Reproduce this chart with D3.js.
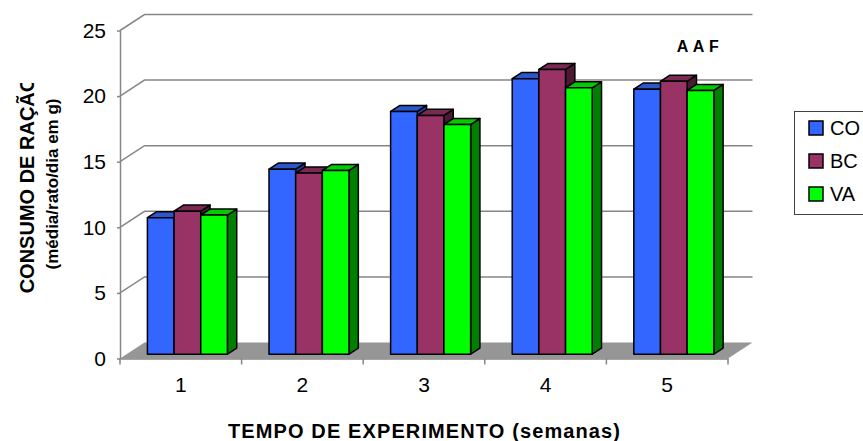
<!DOCTYPE html>
<html><head><meta charset="utf-8">
<script src="https://cdn.jsdelivr.net/npm/d3@7"></script>
<style>
body{margin:0;background:#fff}
svg{display:block;font-family:Arial,"Liberation Sans",sans-serif}
</style>
</head><body>
<svg id="chart" width="863" height="441"></svg>
<script>
// Weekly feed intake (g per rat per day), three groups
const weeks = ["1", "2", "3", "4", "5"];
const seriesNames = ["CO", "BC", "VA"];
const coValues = [10.4, 14.1, 18.5, 21.0, 20.2];
const bcValues = [10.9, 13.8, 18.2, 21.7, 20.8];
const vaValues = [10.6, 14.0, 17.5, 20.3, 20.1];
const yTicks = [0, 5, 10, 15, 20, 25];

const seriesValues = [coValues, bcValues, vaValues];
const palette = [
  {front: "#3366ff", top: "#2c56cc", side: "#1f3f99"},
  {front: "#993366", top: "#7a2952", side: "#4d1a33"},
  {front: "#00ff00", top: "#00cc00", side: "#008000"}
];

const svg = d3.select("#chart");
const fontFamily = "Arial, 'Liberation Sans', sans-serif";

// front plane of the 3-D box
const x = d3.scaleBand().domain(weeks).range([120, 728]).padding(0);
const sub = d3.scaleBand().domain(seriesNames).range([0, x.bandwidth()])
  .paddingInner(0).paddingOuter(0.78);
const y = d3.scaleLinear().domain([0, 25]).range([358.5, 30.5]);

// oblique depth of the box and of the bars
const wallDx = 24.5, wallDy = -16;
const f0 = 0.27, f1 = 0.65;
const bx0 = wallDx * f0, by0 = wallDy * f0;
const bdx = wallDx * (f1 - f0), bdy = wallDy * (f1 - f0);

const gridColor = "#868686";

// floor
svg.append("polygon")
  .attr("points", [
    [x.range()[0], y(0)], [x.range()[1], y(0)],
    [x.range()[1] + wallDx, y(0) + wallDy], [x.range()[0] + wallDx, y(0) + wallDy]
  ].map(p => p.join(",")).join(" "))
  .attr("fill", "#969696");

// gridlines on the side and back walls
svg.append("g").selectAll("polyline")
  .data(yTicks.filter(v => v > 0))
  .join("polyline")
  .attr("points", v => [
    [x.range()[0], y(v)],
    [x.range()[0] + wallDx, y(v) + wallDy],
    [x.range()[1] + wallDx, y(v) + wallDy]
  ].map(p => p.join(",")).join(" "))
  .attr("fill", "none")
  .attr("stroke", gridColor)
  .attr("stroke-width", 1.5);

// value axis
const yAxis = svg.append("g")
  .attr("transform", `translate(${x.range()[0]},0)`)
  .call(d3.axisLeft(y).tickValues(yTicks).tickSize(3).tickSizeOuter(0).tickPadding(11));
yAxis.select(".domain").attr("stroke", gridColor).attr("stroke-width", 1.5);
yAxis.selectAll(".tick line").attr("stroke", gridColor).attr("stroke-width", 1.5);
yAxis.selectAll(".tick text")
  .attr("font-size", 21).attr("font-family", fontFamily)
  .attr("fill", "#000");

// category axis
const xAxis = svg.append("g")
  .attr("transform", `translate(0,${y(0)})`)
  .call(d3.axisBottom(x).tickSize(0).tickPadding(20));
xAxis.select(".domain").attr("stroke", gridColor).attr("stroke-width", 1.5);
xAxis.selectAll(".tick text")
  .attr("font-size", 21).attr("font-family", fontFamily)
  .attr("fill", "#000")
  .attr("dy", "0.62em");
// tick marks between categories
const bounds = weeks.map(w => x(w)).concat([x.range()[1]]);
svg.append("g").selectAll("line")
  .data(bounds)
  .join("line")
  .attr("x1", d => d).attr("x2", d => d)
  .attr("y1", y(0)).attr("y2", y(0) + 6)
  .attr("stroke", gridColor).attr("stroke-width", 1.5);

// 3-D bars, drawn left to right so nearer faces overlap
const bars = [];
weeks.forEach((w, i) => {
  seriesNames.forEach((s, j) => {
    bars.push({week: w, series: s, j, value: seriesValues[j][i]});
  });
});

const barG = svg.append("g")
  .attr("stroke", "#000")
  .attr("stroke-width", 1.5)
  .attr("stroke-linejoin", "round");

bars.forEach(b => {
  const left = x(b.week) + sub(b.series) + bx0;
  const right = left + sub.bandwidth();
  const top = y(b.value) + by0;
  const bottom = y(0) + by0;
  const c = palette[b.j];
  const g = barG.append("g");
  g.append("polygon")
    .attr("points", [[right, top], [right + bdx, top + bdy], [right + bdx, bottom + bdy], [right, bottom]]
      .map(p => p.join(",")).join(" "))
    .attr("fill", c.side);
  g.append("polygon")
    .attr("points", [[left, top], [left + bdx, top + bdy], [right + bdx, top + bdy], [right, top]]
      .map(p => p.join(",")).join(" "))
    .attr("fill", c.top);
  g.append("rect")
    .attr("x", left).attr("y", top)
    .attr("width", right - left).attr("height", bottom - top)
    .attr("fill", c.front);
});

// annotation
svg.append("text")
  .attr("x", 700).attr("y", 52)
  .attr("text-anchor", "middle")
  .attr("font-size", 16).attr("font-weight", "bold")
  .attr("letter-spacing", 4.5)
  .text("AAF");

// axis titles
svg.append("text")
  .attr("x", 424).attr("y", 438)
  .attr("text-anchor", "middle")
  .attr("font-size", 20).attr("font-weight", "bold")
  .attr("textLength", 392).attr("lengthAdjust", "spacing")
  .text("TEMPO DE EXPERIMENTO (semanas)");

svg.append("clipPath").attr("id", "ytitle-clip")
  .append("rect").attr("x", 0).attr("y", 83).attr("width", 100).attr("height", 358);

const yTitle = svg.append("g").attr("clip-path", "url(#ytitle-clip)");
yTitle.append("text")
  .attr("transform", "translate(34,185) rotate(-90)")
  .attr("text-anchor", "middle")
  .attr("font-size", 20).attr("font-weight", "bold")
  .text("CONSUMO DE RAÇÃO");
yTitle.append("text")
  .attr("transform", "translate(58,184) rotate(-90)")
  .attr("text-anchor", "middle")
  .attr("font-size", 17).attr("font-weight", "bold")
  .text("(média/rato/dia em g)");

// legend
const legend = svg.append("g");
legend.append("rect")
  .attr("x", 794.5).attr("y", 111.5).attr("width", 120).attr("height", 103)
  .attr("fill", "#fff").attr("stroke", "#404040").attr("stroke-width", 1);
const items = legend.selectAll("g.item")
  .data(seriesNames)
  .join("g")
  .attr("class", "item")
  .attr("transform", (d, i) => `translate(809,${121 + i * 33})`);
items.append("rect")
  .attr("width", 14).attr("height", 14)
  .attr("fill", (d, i) => palette[i].front)
  .attr("stroke", "#000").attr("stroke-width", 1.5);
items.append("text")
  .attr("x", 21).attr("y", 14)
  .attr("font-size", 20)
  .text(d => d);
</script>
</body></html>
